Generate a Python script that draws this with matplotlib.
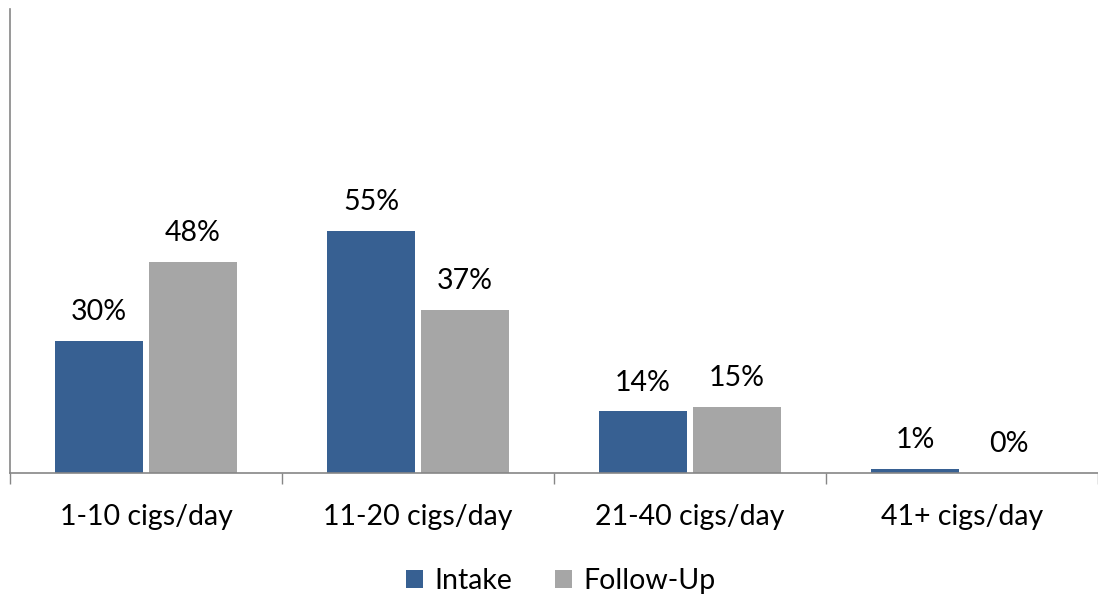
import numpy as np
import matplotlib.pyplot as plt

plt.rcParams['font.family'] = ['Lato', 'DejaVu Sans']

categorias = ["1-10 cigs/day", "11-20 cigs/day", "21-40 cigs/day", "41+ cigs/day"]
intake = [30, 55, 14, 1]
follow_up = [48, 37, 15, 0]
series = ["Intake", "Follow-Up"]
colores = ["#376092", "#A6A6A6"]

fig = plt.figure(figsize=(10.98, 5.95), dpi=100)
ax = fig.add_axes([10 / 1098, 1 - 473 / 595, 1088 / 1098, 464 / 595])

x = np.arange(len(categorias))
ancho = 0.326
off = 0.173
b1 = ax.bar(x - off, intake, ancho, color=colores[0], label=series[0])
b2 = ax.bar(x + off, follow_up, ancho, color=colores[1], label=series[1])

for barras, vals in [(b1, intake), (b2, follow_up)]:
    for b, v in zip(barras, vals):
        ax.text(b.get_x() + b.get_width() / 2, v + 3.6, str(v) + "%",
                ha="center", va="bottom", fontsize=20.5)

ax.set_xlim(-0.5, 3.5)
ax.set_ylim(0, 105.5)
ax.set_yticks([])
ax.set_xticks(np.arange(-0.5, 4, 1))
ax.set_xticklabels([])
ax.set_xticks(x, minor=True)
ax.set_xticklabels(categorias, minor=True, fontsize=20.5)
ax.tick_params(axis="x", which="major", length=8, width=1, color="#868686", direction="out")
ax.tick_params(axis="x", which="minor", length=0, pad=22)
for s in ["top", "right"]:
    ax.spines[s].set_visible(False)
for s in ["left", "bottom"]:
    ax.spines[s].set_color("#868686")
    ax.spines[s].set_linewidth(1.2)

fig.legend(loc="lower center", bbox_to_anchor=(0.511, -0.042), ncol=2, frameon=False,
           fontsize=20.5, handlelength=0.6, handleheight=0.6, handletextpad=0.4,
           columnspacing=1.5)

fig.savefig("out.png", dpi=100)
